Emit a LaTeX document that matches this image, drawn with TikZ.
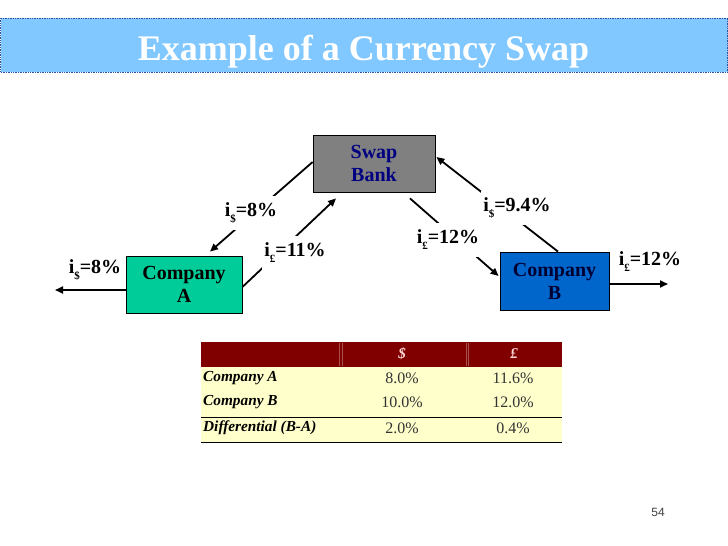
\documentclass[tikz,border=0pt]{standalone}
\usepackage{fontspec}
\setmainfont{Liberation Serif}
\setsansfont{Liberation Sans}
\usetikzlibrary{arrows.meta,calc}
\definecolor{titlebg}{HTML}{80C8FF}
\definecolor{titleline}{HTML}{3050A0}
\definecolor{bankgray}{HTML}{808080}
\definecolor{navytext}{HTML}{000080}
\definecolor{compA}{HTML}{00CC99}
\definecolor{compB}{HTML}{0066CC}
\definecolor{compBtext}{HTML}{000033}
\definecolor{hdrred}{HTML}{800000}
\definecolor{hdrline}{HTML}{A85050}
\definecolor{hdrtext}{HTML}{FFD8D8}
\definecolor{bodyyellow}{HTML}{FFFFCC}
\definecolor{numgray}{HTML}{333333}
\definecolor{pagegray}{HTML}{404040}
\newcommand{\cursub}[1]{\raisebox{-0.3em}{\fontsize{11}{11}\selectfont #1}}
\begin{document}
\begin{tikzpicture}[x=1pt,y=-1pt,
  box/.style={draw=black,line width=0.8pt,align=center,inner sep=0pt,
    font=\fontsize{20}{23}\selectfont\bfseries},
  arr/.style={line width=1.8pt,-{Triangle[length=8pt,width=7pt]}},
  lbl/.style={fill=white,inner xsep=2pt,inner ysep=7pt,font=\fontsize{20}{22}\selectfont\bfseries},
  rowlbl/.style={anchor=west,inner sep=0pt,font=\fontsize{15.3}{17}\selectfont\bfseries\itshape},
  num/.style={inner sep=0pt,text=numgray,font=\fontsize{16}{18}\selectfont},
  hdr/.style={inner sep=0pt,text=hdrtext,font=\fontsize{15}{17}\selectfont\bfseries\itshape}]
\useasboundingbox (0,0) rectangle (728,546);
\fill[white] (0,0) rectangle (728,546);
% title bar
\fill[titlebg] (0.5,18) rectangle (727.5,72);
\draw[titleline,densely dotted,line width=0.7pt] (0.5,18) rectangle (727.5,72);
\node[text=white,inner sep=0pt,font=\fontsize{36}{40}\selectfont\bfseries,anchor=base] (title) at (363.5,60) {Example of a Currency Swap};
% boxes
\node[box,fill=bankgray,text=navytext,minimum width=122pt,minimum height=57pt] (bank) at (374,163.5) {Swap\\Bank};
\node[box,fill=compA,text=black,minimum width=116pt,minimum height=57pt] (A) at (184,284.5) {Company\\A};
\node[box,fill=compB,text=compBtext,minimum width=109pt,minimum height=58pt] (B) at (554.5,281) {Company\\B};
\coordinate (aend) at (55,290);
\coordinate (bend) at (668,284);
% connectors
\draw[arr] ($(bank.west)+(0,-1.5)$) -- ($(A.north)+(26,-4)$);
\draw[arr] ($(A.east)+(0,2.5)$) -- ($(bank.south)+(-38,6)$);
\draw[arr] ($(B.north)+(3.5,0)$) -- ($(bank.east)+(1,-6.5)$);
\draw[arr] ($(bank.south)+(36,6)$) -- ($(B.west)+(-1,-5)$);
\draw[arr] ($(A.west)+(0,5.5)$) -- (aend);
\draw[arr] ($(B.east)+(0,3)$) -- (bend);
% labels
\node[lbl] (l1) at (251,213) {i\cursub{\$}=8\%};
\node[lbl] (l2) at (295,253) {i\cursub{£}=11\%};
\node[lbl] (l3) at (517,208) {i\cursub{\$}=9.4\%};
\node[lbl] (l4) at (448,240) {i\cursub{£}=12\%};
\node[lbl,fill=none,inner ysep=0pt] (l5) at (95,270) {i\cursub{\$}=8\%};
\node[lbl,fill=none,inner ysep=0pt] (l6) at (650,262) {i\cursub{£}=12\%};
% table
\fill[hdrred] (201,342) rectangle (562,367);
\fill[bodyyellow] (201,367) rectangle (562,442);
\draw[hdrline,line width=0.5pt] (339,343) -- (339,366) (342,343) -- (342,366)
  (466,343) -- (466,366) (468.5,343) -- (468.5,366);
\draw[black,line width=1pt] (201,417) -- (562,417);
\draw[black,line width=1pt] (201,442) -- (562,442);
\node[hdr] (hd) at (402,354) {\$};
\node[hdr] (hp) at (514,354) {£};
\node[rowlbl] (ra) at (203,378) {Company A};
\node[rowlbl] (rb) at (203,402) {Company B};
\node[rowlbl] (rd) at (203,428) {Differential (B-A)};
\node[num] (a1) at (402,378) {8.0\%};
\node[num] (a2) at (513,378) {11.6\%};
\node[num] (b1) at (402,402) {10.0\%};
\node[num] (b2) at (513,402) {12.0\%};
\node[num] (d1) at (402,428) {2.0\%};
\node[num] (d2) at (513,428) {0.4\%};
% page number
\node[inner sep=0pt,text=pagegray,font=\sffamily\fontsize{12}{14}\selectfont] (pg) at (658,512) {54};
\end{tikzpicture}
\end{document}
